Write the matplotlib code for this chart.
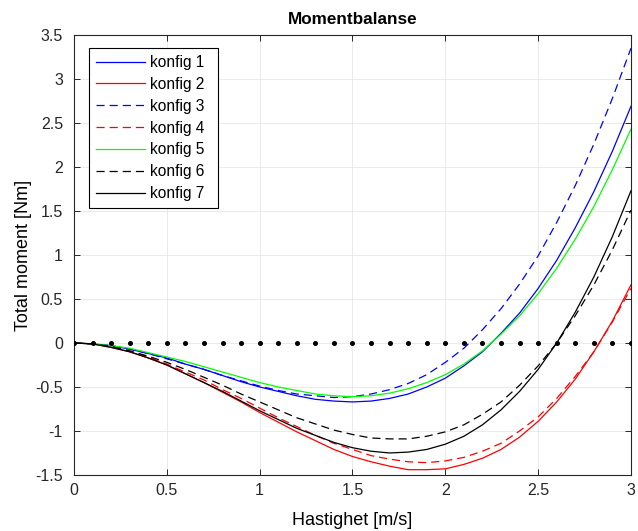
import matplotlib
matplotlib.use("Agg")
import matplotlib.pyplot as plt
import numpy as np

plt.rcParams['font.family'] = ['Liberation Sans', 'DejaVu Sans']

# hastighet [m/s], 0 til 3 med steg 0.1
hastighet = [0.0, 0.1, 0.2, 0.3, 0.4, 0.5, 0.6, 0.7, 0.8, 0.9, 1.0,
             1.1, 1.2, 1.3, 1.4, 1.5, 1.6, 1.7, 1.8, 1.9, 2.0,
             2.1, 2.2, 2.3, 2.4, 2.5, 2.6, 2.7, 2.8, 2.9, 3.0]

# total moment [Nm] for hver konfigurasjon
konfig1 = [0.00, -0.01, -0.03, -0.07, -0.12, -0.17, -0.24, -0.30, -0.37, -0.44, -0.50,
           -0.55, -0.60, -0.64, -0.66, -0.67, -0.66, -0.63, -0.58, -0.50, -0.40,
           -0.26, -0.10, 0.11, 0.34, 0.62, 0.94, 1.31, 1.72, 2.18, 2.69]
konfig2 = [0.00, -0.01, -0.05, -0.10, -0.17, -0.25, -0.35, -0.45, -0.56, -0.67, -0.79,
           -0.90, -1.01, -1.11, -1.21, -1.29, -1.35, -1.40, -1.44, -1.44, -1.43,
           -1.38, -1.31, -1.21, -1.07, -0.89, -0.67, -0.41, -0.10, 0.25, 0.66]
konfig3 = [0.00, -0.01, -0.03, -0.07, -0.12, -0.18, -0.24, -0.30, -0.37, -0.43, -0.49,
           -0.54, -0.58, -0.60, -0.62, -0.61, -0.58, -0.53, -0.46, -0.36, -0.22,
           -0.06, 0.15, 0.39, 0.67, 0.99, 1.37, 1.79, 2.26, 2.78, 3.35]
konfig4 = [0.00, -0.01, -0.04, -0.09, -0.16, -0.24, -0.33, -0.42, -0.53, -0.63, -0.74,
           -0.85, -0.95, -1.05, -1.14, -1.21, -1.28, -1.32, -1.35, -1.36, -1.34,
           -1.30, -1.23, -1.14, -1.00, -0.84, -0.63, -0.38, -0.10, 0.24, 0.62]
konfig5 = [0.00, -0.01, -0.03, -0.06, -0.11, -0.16, -0.21, -0.27, -0.33, -0.39, -0.45,
           -0.50, -0.54, -0.58, -0.60, -0.61, -0.60, -0.57, -0.52, -0.45, -0.36,
           -0.24, -0.09, 0.10, 0.31, 0.56, 0.85, 1.18, 1.55, 1.97, 2.43]
konfig6 = [0.00, -0.01, -0.04, -0.09, -0.15, -0.22, -0.30, -0.39, -0.48, -0.58, -0.67,
           -0.76, -0.85, -0.92, -0.99, -1.04, -1.08, -1.09, -1.09, -1.06, -1.01,
           -0.93, -0.81, -0.67, -0.48, -0.26, 0.00, 0.31, 0.66, 1.06, 1.51]
konfig7 = [0.00, -0.01, -0.05, -0.10, -0.17, -0.25, -0.35, -0.45, -0.55, -0.66, -0.77,
           -0.87, -0.97, -1.05, -1.13, -1.19, -1.23, -1.25, -1.24, -1.21, -1.15,
           -1.06, -0.93, -0.76, -0.55, -0.30, 0.00, 0.35, 0.75, 1.21, 1.73]

# referanselinje (prikker) ved null moment
null_linje = [0.0] * len(hastighet)

x_ticks = [0, 0.5, 1, 1.5, 2, 2.5, 3]
y_ticks = [-1.5, -1, -0.5, 0, 0.5, 1, 1.5, 2, 2.5, 3, 3.5]

fig = plt.figure(figsize=(6.38, 5.31), dpi=100)
ax = fig.add_axes([0.116, 0.1055, 0.873, 0.8286])

lw = 0.9
dash = (6.5, 4)
ax.plot(hastighet, konfig1, color='#0000ff', lw=lw, label='konfig 1')
ax.plot(hastighet, konfig2, color='#ff0000', lw=lw, label='konfig 2')
ax.plot(hastighet, konfig3, color='#0000ff', lw=lw, dashes=dash, label='konfig 3')
ax.plot(hastighet, konfig4, color='#ff0000', lw=lw, dashes=dash, label='konfig 4')
ax.plot(hastighet, konfig5, color='#00ff00', lw=lw, label='konfig 5')
ax.plot(hastighet, konfig6, color='#000000', lw=lw, dashes=dash, label='konfig 6')
ax.plot(hastighet, konfig7, color='#000000', lw=lw, label='konfig 7')
ax.plot(hastighet, null_linje, 'o', color='black', ms=2.6, zorder=3)

ax.set_xlim(0, 3)
ax.set_ylim(-1.5, 3.5)
ax.set_xticks(x_ticks)
ax.set_xticklabels(['0', '0.5', '1', '1.5', '2', '2.5', '3'])
ax.set_yticks(y_ticks)
ax.set_yticklabels(['-1.5', '-1', '-0.5', '0', '0.5', '1', '1.5', '2', '2.5', '3', '3.5'])

ax.grid(True, color='#e6e6e6', lw=0.6)
ax.set_axisbelow(True)
ax.tick_params(direction='in', top=True, right=True, length=4, width=0.7,
               colors='#262626', labelsize=11.5)
ax.tick_params(axis='y', pad=8)
ax.tick_params(axis='x', pad=6)
for s in ax.spines.values():
    s.set_color('#262626')
    s.set_linewidth(0.8)

ax.set_title('Momentbalanse', fontsize=12.3, fontweight='bold', pad=8)
ax.set_xlabel('Hastighet [m/s]', fontsize=13, labelpad=10)
ax.set_ylabel('Total moment [Nm]', fontsize=13, labelpad=2)

# legendeboks som i MATLAB: ekstra luft til hoyre for teksten
leg = ax.legend(loc='upper left', bbox_to_anchor=(0.027, 0.9705, 0.2316, 0.0),
                mode='expand', fontsize=11.2, handlelength=3.15, handletextpad=0.3,
                labelspacing=0.44, borderaxespad=0.0, fancybox=False,
                edgecolor='black', framealpha=1, borderpad=0.45)
leg.get_frame().set_linewidth(0.8)

fig.savefig('out.png', dpi=100)
